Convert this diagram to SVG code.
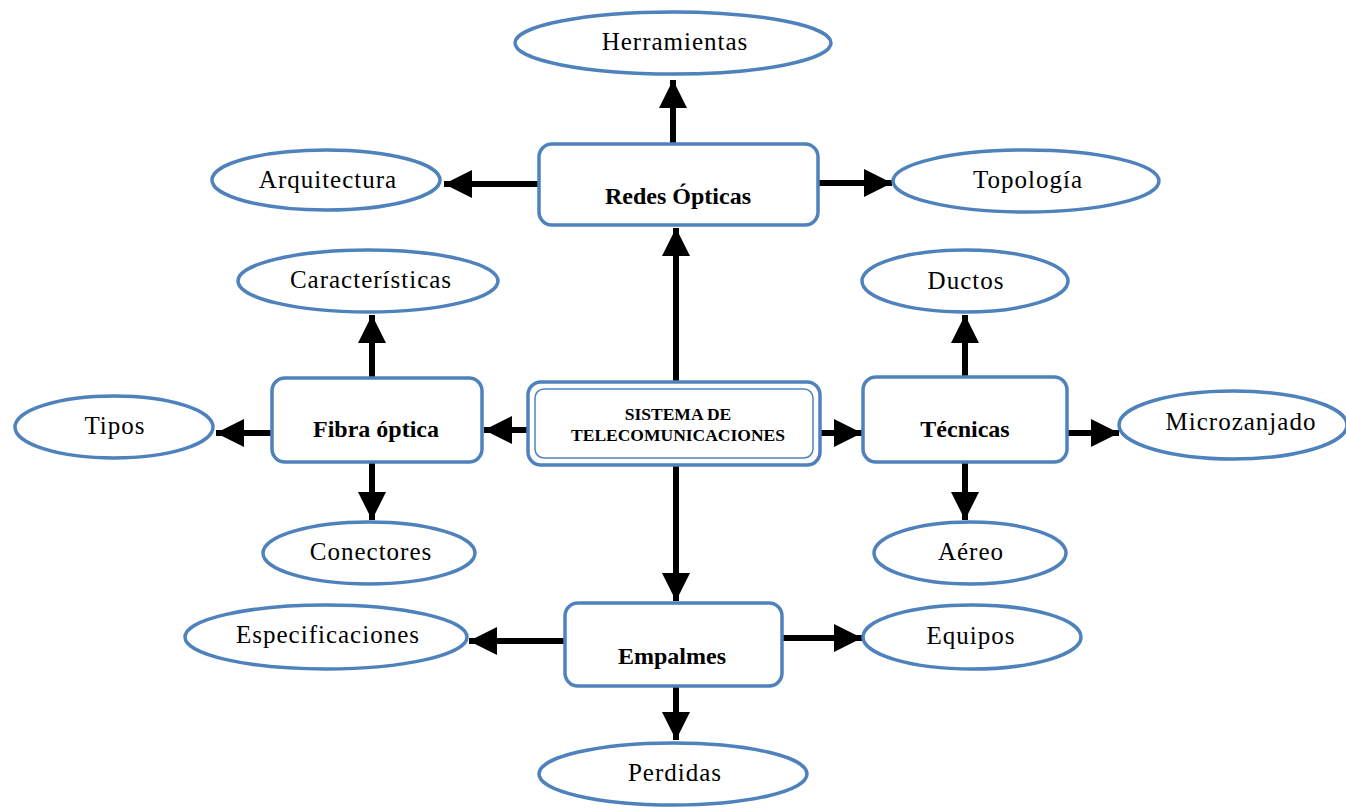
<svg xmlns="http://www.w3.org/2000/svg" width="1346" height="811" viewBox="0 0 1346 811">
<style>
.el{fill:#fff;stroke:#4f81bd;stroke-width:3.5}
.bx{fill:#fff;stroke:#4f81bd;stroke-width:3.5}
.t{font-family:"Liberation Serif","Times New Roman",serif;font-size:25px;letter-spacing:1px;fill:#000;text-anchor:middle}
.b{font-family:"Liberation Serif","Times New Roman",serif;font-size:24px;font-weight:bold;fill:#000;text-anchor:middle}
.s{font-family:"Liberation Serif","Times New Roman",serif;font-size:17.5px;font-weight:bold;fill:#000;text-anchor:middle}
.c{stroke:#000;stroke-width:6;fill:none;marker-end:url(#ah)}
</style>
<defs>
<marker id="ah" markerUnits="userSpaceOnUse" markerWidth="30" markerHeight="28" refX="28" refY="14" orient="auto">
<path d="M0,0 L28,14 L0,28 Z" fill="#000"/>
</marker>
</defs>
<rect width="1346" height="811" fill="#fff"/>
<g id="connectors">
<line class="c" x1="673" y1="143" x2="673" y2="80"/>
<line class="c" x1="538" y1="184" x2="444" y2="184"/>
<line class="c" x1="818" y1="183" x2="892" y2="183"/>
<line class="c" x1="676" y1="382" x2="676" y2="228"/>
<line class="c" x1="527" y1="430" x2="484" y2="430"/>
<line class="c" x1="820" y1="433" x2="862" y2="433"/>
<line class="c" x1="676" y1="465" x2="676" y2="601"/>
<line class="c" x1="372" y1="378" x2="372" y2="315"/>
<line class="c" x1="272" y1="433" x2="216" y2="433"/>
<line class="c" x1="372" y1="462" x2="372" y2="520"/>
<line class="c" x1="965" y1="377" x2="965" y2="315"/>
<line class="c" x1="1067" y1="433" x2="1119" y2="433"/>
<line class="c" x1="965" y1="462" x2="965" y2="520"/>
<line class="c" x1="565" y1="641" x2="469" y2="641"/>
<line class="c" x1="782" y1="638" x2="862" y2="638"/>
<line class="c" x1="676" y1="686" x2="676" y2="740"/>
</g>
<g id="herramientas"><ellipse class="el" cx="673" cy="43" rx="158" ry="31"/><text class="t" x="675" y="50">Herramientas</text></g>
<g id="arquitectura"><ellipse class="el" cx="326" cy="180" rx="114" ry="30"/><text class="t" x="328" y="188">Arquitectura</text></g>
<g id="topologia"><ellipse class="el" cx="1026" cy="181" rx="133" ry="31"/><text class="t" x="1028" y="188">Topología</text></g>
<g id="caracteristicas"><ellipse class="el" cx="368" cy="281" rx="130" ry="31"/><text class="t" x="371" y="288">Características</text></g>
<g id="ductos"><ellipse class="el" cx="965" cy="281" rx="103" ry="31"/><text class="t" x="966" y="289">Ductos</text></g>
<g id="tipos"><ellipse class="el" cx="114" cy="427" rx="99" ry="31"/><text class="t" x="115" y="434">Tipos</text></g>
<g id="microzanjado"><ellipse class="el" cx="1233" cy="425" rx="114" ry="34"/><text class="t" x="1241" y="430">Microzanjado</text></g>
<g id="conectores"><ellipse class="el" cx="369" cy="553" rx="106" ry="31"/><text class="t" x="371" y="560">Conectores</text></g>
<g id="aereo"><ellipse class="el" cx="970" cy="553" rx="96" ry="31"/><text class="t" x="971" y="560">Aéreo</text></g>
<g id="especificaciones"><ellipse class="el" cx="326" cy="637" rx="141" ry="32"/><text class="t" x="328" y="643">Especificaciones</text></g>
<g id="equipos"><ellipse class="el" cx="972" cy="637" rx="109" ry="32"/><text class="t" x="971" y="644">Equipos</text></g>
<g id="perdidas"><ellipse class="el" cx="673" cy="774" rx="134" ry="31"/><text class="t" x="675" y="781">Perdidas</text></g>
<g id="redes"><rect class="bx" x="539" y="144" width="279" height="81" rx="13"/><text class="b" x="678" y="204">Redes Ópticas</text></g>
<g id="fibra"><rect class="bx" x="272" y="378" width="210" height="84" rx="13"/><text class="b" x="376" y="437">Fibra óptica</text></g>
<g id="tecnicas"><rect class="bx" x="863" y="377" width="204" height="85" rx="13"/><text class="b" x="965" y="437">Técnicas</text></g>
<g id="empalmes"><rect class="bx" x="565" y="603" width="217" height="83" rx="13"/><text class="b" x="672" y="664">Empalmes</text></g>
<g id="sistema"><rect class="bx" x="528" y="382" width="292" height="83" rx="13" stroke-width="5"/><rect x="535" y="389" width="278" height="69" rx="9" fill="#fff" stroke="#4f81bd" stroke-width="1.5"/><text class="s" x="678" y="420">SISTEMA DE</text><text class="s" x="678" y="441">TELECOMUNICACIONES</text></g>
</svg>
